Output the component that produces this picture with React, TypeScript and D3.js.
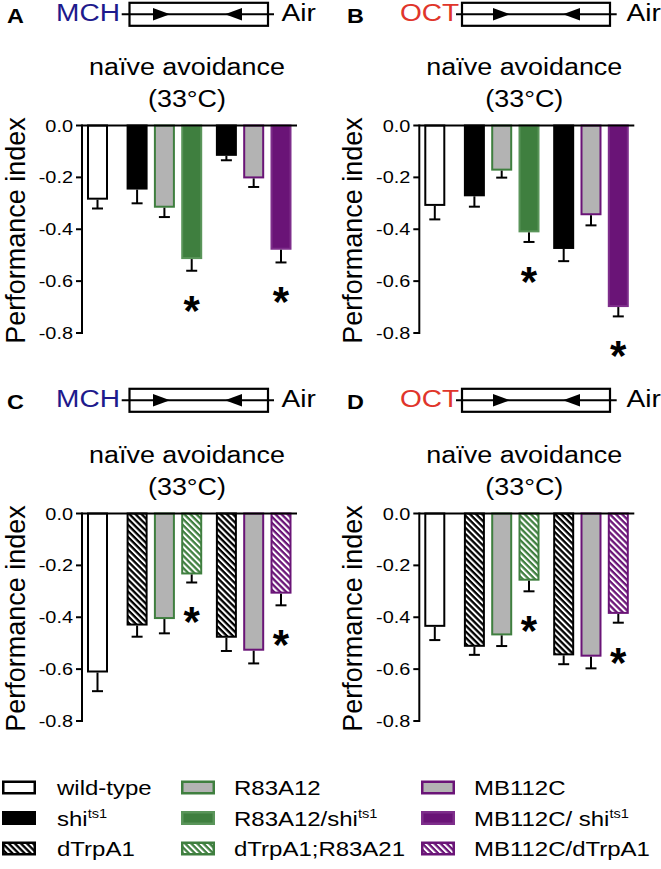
import React from "react";
import * as d3 from "d3";

const FONT = "'Liberation Sans', Arial, Helvetica, sans-serif";
const SX = 1.17;

const GREEN = "#3f7f3f";
const GREEN_EDGE = "#5a955a";
const PURPLE = "#6a1477";
const PURPLE_EDGE = "#7e2e8b";
const GRAY = "#b3b3b3";

// ---------- data ----------
const panelLetters = ["A", "B", "C", "D"];
const odors = ["MCH", "OCT", "MCH", "OCT"];
const odorColors = ["#1e1a8c", "#e0352b", "#1e1a8c", "#e0352b"];
const titleLine1 = "naïve avoidance";
const titleLine2 = "(33°C)";
const yLabel = "Performance index";
const yTicks = [0, -0.2, -0.4, -0.6, -0.8];
const yTickLabels = ["0.0", "-0.2", "-0.4", "-0.6", "-0.8"];

const genotypesTop = ["wild-type", "shits1", "R83A12", "R83A12/shits1", "shits1", "MB112C", "MB112C/shits1"];
const genotypesBottom = ["wild-type", "dTrpA1", "R83A12", "dTrpA1;R83A21", "dTrpA1", "MB112C", "MB112C/dTrpA1"];
const stylesTop = ["white", "black", "greenOpen", "green", "black", "purpleOpen", "purple"];
const stylesBottom = ["white", "blackHatch", "greenOpen", "greenHatch", "blackHatch", "purpleOpen", "purpleHatch"];

const meansA = [-0.286, -0.247, -0.317, -0.515, -0.117, -0.204, -0.479];
const semA = [0.034, 0.053, 0.036, 0.045, 0.017, 0.033, 0.049];
const meansB = [-0.31, -0.273, -0.174, -0.412, -0.476, -0.346, -0.70];
const semB = [0.052, 0.04, 0.027, 0.037, 0.047, 0.039, 0.036];
const meansC = [-0.613, -0.432, -0.407, -0.235, -0.479, -0.529, -0.309];
const semC = [0.072, 0.043, 0.055, 0.031, 0.051, 0.049, 0.045];
const meansD = [-0.437, -0.514, -0.47, -0.259, -0.547, -0.552, -0.387];
const semD = [0.051, 0.031, 0.041, 0.041, 0.034, 0.045, 0.034];
const significant = [false, false, false, true, false, false, true];

const legendMain = [
  ["wild-type", "shi", "dTrpA1"],
  ["R83A12", "R83A12/shi", "dTrpA1;R83A21"],
  ["MB112C", "MB112C/ shi", "MB112C/dTrpA1"],
];
const legendSup = [
  ["", "ts1", ""],
  ["", "ts1", ""],
  ["", "ts1", ""],
];
const legendStyles = [
  ["white", "black", "blackHatch"],
  ["greenOpen", "green", "greenHatch"],
  ["purpleOpen", "purple", "purpleHatch"],
];

// ---------- layout ----------
const slotPos = [0, 1.45, 2.45, 3.45, 4.72, 5.72, 6.72];
const panelAxisX = [82, 419.3, 82, 419.3];
const panelZeroY = [125.5, 125.5, 513.5, 513.5];
const PLOT_H = 207.5;
const AXIS_W = 215;
const BAR_W = 19;

const headerCols = [
  { letterX: 7, odorX: 56, box0: 129.5, box1: 268, line0: 121.7, line1: 274, rTip: 170, lTip: 225, airX: 281.5 },
  { letterX: 347, odorX: 400, box0: 462, box1: 610, line0: 456, line1: 616.7, rTip: 510, lTip: 563, airX: 626.5 },
];
const headerRowCY = [14.3, 400.3];

const styleMap: Record<string, { fill: string; stroke: string }> = {
  white: { fill: "#ffffff", stroke: "#000000" },
  black: { fill: "#000000", stroke: "#000000" },
  greenOpen: { fill: GRAY, stroke: GREEN },
  green: { fill: GREEN, stroke: GREEN_EDGE },
  purpleOpen: { fill: GRAY, stroke: PURPLE },
  purple: { fill: PURPLE, stroke: PURPLE_EDGE },
  blackHatch: { fill: "url(#hatch-black)", stroke: "#000000" },
  greenHatch: { fill: "url(#hatch-green)", stroke: GREEN },
  purpleHatch: { fill: "url(#hatch-purple)", stroke: PURPLE },
};

const SText = ({ x, y, size, anchor = "start", weight = "normal", fill = "#000", sx = SX, children }: any) => (
  <text
    transform={`translate(${x},${y}) scale(${sx},1)`}
    fontSize={size}
    textAnchor={anchor}
    fontWeight={weight}
    fill={fill}
    fontFamily={FONT}
  >
    {children}
  </text>
);

const Header = ({ p }: { p: number }) => {
  const c = headerCols[p % 2];
  const cy = headerRowCY[Math.floor(p / 2)];
  const bh = 23;
  const ah = 6.3;
  const al = 17;
  return (
    <g>
      <SText x={c.letterX} y={cy + 8.3} size={20} weight="bold">{panelLetters[p]}</SText>
      <SText x={c.odorX} y={cy + 6.6} size={24} fill={odorColors[p]}>{odors[p]}</SText>
      <line x1={c.line0} x2={c.line1} y1={cy} y2={cy} stroke="#000" strokeWidth={2} />
      <rect x={c.box0} y={cy - bh / 2} width={c.box1 - c.box0} height={bh} fill="none" stroke="#000" strokeWidth={2.2} />
      <path d={`M${c.rTip},${cy} L${c.rTip - al},${cy - ah} L${c.rTip - al},${cy + ah} Z`} fill="#000" />
      <path d={`M${c.lTip},${cy} L${c.lTip + al},${cy - ah} L${c.lTip + al},${cy + ah} Z`} fill="#000" />
      <SText x={c.airX} y={cy + 6.6} size={24}>Air</SText>
    </g>
  );
};

const Panel = ({ p }: { p: number }) => {
  const ax = panelAxisX[p];
  const zy = panelZeroY[p];
  const means = [meansA, meansB, meansC, meansD][p];
  const sems = [semA, semB, semC, semD][p];
  const styles = p < 2 ? stylesTop : stylesBottom;
  const labels = p < 2 ? genotypesTop : genotypesBottom;
  const y = d3.scaleLinear().domain([0, -0.8]).range([zy, zy + PLOT_H]);
  const x = d3.scaleLinear().domain([0, 6.72]).range([ax + 15.5, ax + 199]);
  const titleX = ax + 105;
  return (
    <g>
      <Header p={p} />
      <SText x={titleX} y={zy - 51} size={23} anchor="middle">{titleLine1}</SText>
      <SText x={titleX} y={zy - 18.5} size={23} anchor="middle">{titleLine2}</SText>
      <text
        transform={`translate(${ax - 57},${zy + 105}) rotate(-90)`}
        fontSize={27}
        textAnchor="middle"
        fontFamily={FONT}
      >
        {yLabel}
      </text>
      {means.map((m, i) => {
        const s = styleMap[styles[i]];
        const cx = x(slotPos[i]);
        const yb = y(m);
        const ye = y(m - sems[i]);
        return (
          <g key={labels[i] + i}>
            <rect x={cx - BAR_W / 2} y={zy} width={BAR_W} height={yb - zy - 1} fill={s.fill} stroke={s.stroke} strokeWidth={2} />
            <line x1={cx} x2={cx} y1={yb} y2={ye} stroke="#000" strokeWidth={2} />
            <line x1={cx - 5.5} x2={cx + 5.5} y1={ye} y2={ye} stroke="#000" strokeWidth={2} />
            {significant[i] && (
              <text x={cx} y={ye + 32 + 22} fontSize={42} fontWeight="bold" textAnchor="middle" fontFamily={FONT}>*</text>
            )}
          </g>
        );
      })}
      {/* axes */}
      <line x1={ax} x2={ax + AXIS_W} y1={zy} y2={zy} stroke="#000" strokeWidth={2} />
      <line x1={ax} x2={ax} y1={zy - 1} y2={y(-0.8) + 1} stroke="#000" strokeWidth={2} />
      {yTicks.map((t, i) => (
        <g key={t}>
          <line x1={ax - 6} x2={ax} y1={y(t)} y2={y(t)} stroke="#000" strokeWidth={2} />
          <SText x={ax - 9} y={y(t) + 6} size={17} anchor="end">{yTickLabels[i]}</SText>
        </g>
      ))}
    </g>
  );
};

const Legend = () => {
  const swX = [2, 181, 421];
  const swW = 34;
  const swH = 14;
  const txX = [57, 234, 474];
  const rowCY = [787.5, 818, 848.5];
  return (
    <g>
      {legendMain.map((col, ci) =>
        col.map((lab, ri) => {
          const s = styleMap[legendStyles[ci][ri]];
          const cy = rowCY[ri];
          return (
            <g key={ci + "-" + ri}>
              <rect x={swX[ci] + 1.25} y={cy - swH / 2 + 1.25} width={swW - 2.5} height={swH - 2.5} fill={s.fill} stroke={s.stroke} strokeWidth={2.5} />
              <SText x={txX[ci]} y={cy + 7.5} size={20.5}>
                {lab}
                {legendSup[ci][ri] && (
                  <tspan fontSize={12.5} dy={-8}>{legendSup[ci][ri]}</tspan>
                )}
              </SText>
            </g>
          );
        })
      )}
    </g>
  );
};

const Hatch = ({ id, bg }: { id: string; bg: string }) => (
  <pattern id={id} patternUnits="userSpaceOnUse" width={4.3} height={4.3} patternTransform="rotate(-45)">
    <rect x={0} y={0} width={4.3} height={4.3} fill={bg} />
    <rect x={0} y={0} width={2} height={4.3} fill="#ffffff" />
  </pattern>
);

export default function App() {
  return (
    <svg
      width={661}
      height={869}
      viewBox="0 0 661 869"
      style={{ position: "absolute", left: 0, top: 0, background: "#fff" }}
    >
      <defs>
        <Hatch id="hatch-black" bg="#000000" />
        <Hatch id="hatch-green" bg={GREEN} />
        <Hatch id="hatch-purple" bg={PURPLE} />
      </defs>
      <rect x={0} y={0} width={661} height={869} fill="#fff" />
      {[0, 1, 2, 3].map((p) => (
        <Panel key={p} p={p} />
      ))}
      <Legend />
    </svg>
  );
}
